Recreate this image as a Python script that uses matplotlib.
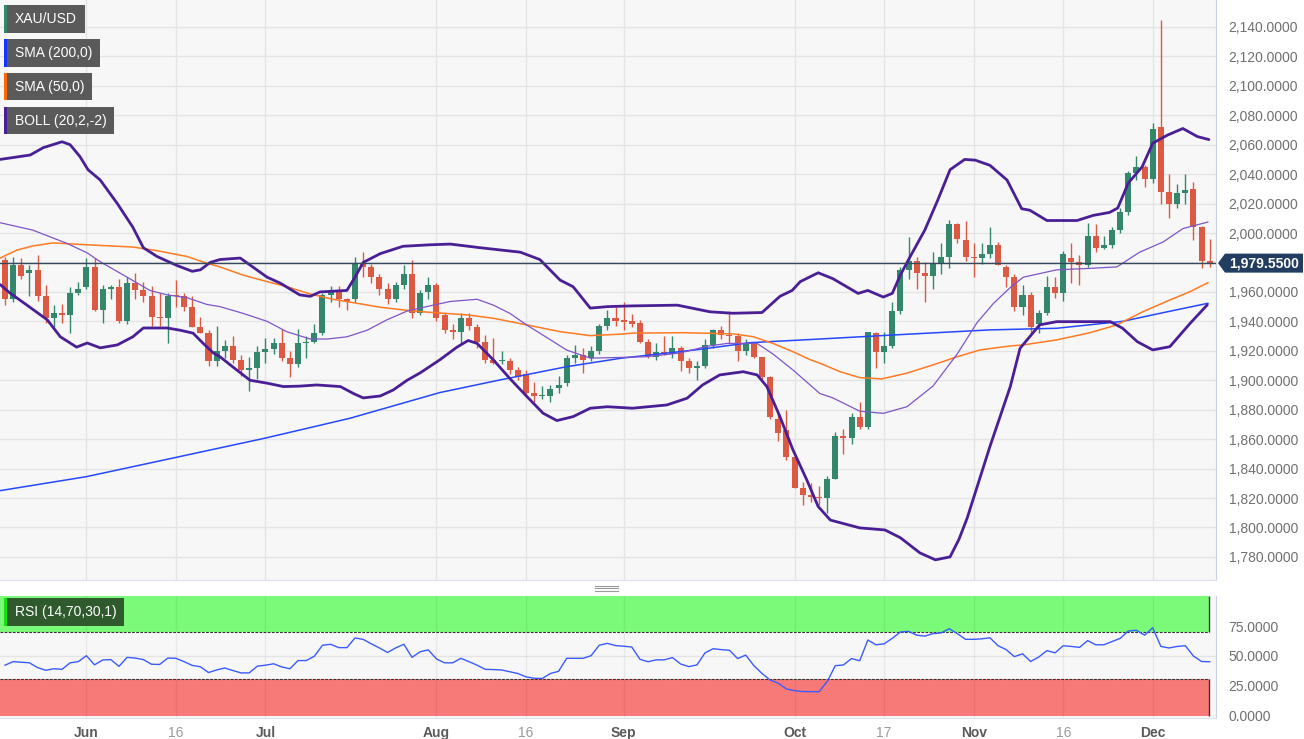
import matplotlib.pyplot as plt
from matplotlib.patches import Rectangle, Polygon
from matplotlib.lines import Line2D
from matplotlib.ticker import FuncFormatter
from matplotlib.transforms import blended_transform_factory
import numpy as np
import pandas as pd

plt.rcParams["font.family"] = ["Liberation Sans", "DejaVu Sans"]

# ---- data (XAU/USD daily) ----
dates = pd.bdate_range("2023-05-18", "2023-12-12")

opens = [1982, 1955, 1978, 1973, 1975, 1957, 1942, 1946, 1944, 1959,
         1963, 1977, 1948, 1962, 1963, 1940, 1966, 1961, 1957, 1943,
         1942, 1958, 1957, 1950, 1936, 1932, 1913, 1920, 1923, 1914,
         1907, 1908, 1919, 1921, 1925, 1915, 1911, 1925, 1926, 1932,
         1958, 1961, 1955, 1955, 1979, 1977, 1970, 1962, 1955, 1965,
         1972, 1946, 1960, 1965, 1944, 1934, 1933, 1942, 1936, 1926,
         1914, 1913, 1913, 1907, 1904, 1891, 1889, 1889, 1895, 1898,
         1915, 1917, 1915, 1920, 1937, 1942, 1941, 1940, 1939, 1926,
         1916, 1919, 1918, 1922, 1913, 1908, 1910, 1924, 1934, 1931,
         1930, 1920, 1925, 1916, 1902, 1874, 1866, 1848, 1827, 1822,
         1821, 1820, 1833, 1862, 1861, 1875, 1868, 1932, 1919, 1923,
         1947, 1975, 1981, 1973, 1971, 1979, 1984, 2006, 1995, 1984,
         1983, 1986, 1992, 1977, 1970, 1950, 1958, 1938, 1946, 1963,
         1959, 1983, 1980, 1978, 1998, 1990, 1992, 2002, 2014, 2041,
         2045, 2037, 2072, 2028, 2020, 2027, 2030, 2004, 1981]
highs = [1984, 1984, 1983, 1978, 1985, 1965, 1951, 1952, 1963, 1967,
         1983, 1983, 1965, 1965, 1969, 1970, 1973, 1967, 1964, 1959,
         1959, 1968, 1959, 1957, 1943, 1934, 1937, 1927, 1930, 1917,
         1916, 1923, 1929, 1929, 1935, 1920, 1935, 1930, 1938, 1959,
         1964, 1964, 1956, 1984, 1987, 1979, 1972, 1966, 1967, 1978,
         1982, 1961, 1970, 1966, 1946, 1938, 1946, 1946, 1938, 1931,
         1929, 1920, 1915, 1909, 1907, 1899, 1896, 1897, 1903, 1917,
         1924, 1922, 1923, 1938, 1948, 1950, 1953, 1945, 1941, 1928,
         1925, 1930, 1930, 1923, 1915, 1913, 1928, 1935, 1937, 1947,
         1932, 1928, 1926, 1916, 1903, 1878, 1880, 1849, 1831, 1830,
         1828, 1835, 1865, 1867, 1878, 1885, 1933, 1933, 1933, 1953,
         1977, 1997, 1984, 1980, 1987, 1993, 2009, 2007, 2008, 1993,
         1993, 2004, 1994, 1978, 1972, 1965, 1960, 1948, 1971, 1970,
         1988, 1993, 1985, 2007, 2006, 1998, 2004, 2017, 2042, 2052,
         2046, 2075, 2145, 2040, 2033, 2040, 2035, 2005, 1996]
lows = [1951, 1953, 1969, 1957, 1954, 1939, 1936, 1939, 1932, 1958,
        1962, 1947, 1939, 1955, 1939, 1938, 1955, 1953, 1937, 1937,
        1925, 1950, 1947, 1936, 1932, 1910, 1910, 1915, 1912, 1903,
        1893, 1901, 1912, 1918, 1913, 1902, 1909, 1915, 1925, 1931,
        1953, 1950, 1948, 1953, 1970, 1966, 1958, 1952, 1953, 1962,
        1942, 1944, 1955, 1940, 1932, 1928, 1925, 1934, 1922, 1912,
        1911, 1911, 1904, 1900, 1889, 1885, 1887, 1885, 1891, 1896,
        1912, 1905, 1913, 1918, 1934, 1937, 1934, 1936, 1925, 1915,
        1914, 1917, 1915, 1906, 1905, 1900, 1908, 1922, 1928, 1925,
        1913, 1917, 1915, 1900, 1874, 1859, 1846, 1827, 1815, 1817,
        1815, 1810, 1833, 1850, 1857, 1867, 1867, 1908, 1912, 1922,
        1945, 1969, 1962, 1953, 1962, 1972, 1976, 1993, 1981, 1970,
        1979, 1983, 1978, 1963, 1947, 1944, 1932, 1932, 1944, 1956,
        1954, 1966, 1965, 1977, 1987, 1989, 1990, 2000, 2012, 2036,
        2031, 2034, 2020, 2010, 2017, 2020, 1995, 1976, 1977]
closes = [1955, 1978, 1971, 1975, 1957, 1942, 1946, 1944, 1959, 1962,
          1977, 1948, 1962, 1963, 1940, 1966, 1961, 1957, 1943, 1942,
          1957, 1957, 1950, 1936, 1932, 1913, 1920, 1923, 1914, 1907,
          1908, 1919, 1921, 1925, 1915, 1911, 1925, 1926, 1932, 1958,
          1961, 1955, 1954, 1979, 1977, 1970, 1962, 1955, 1965, 1972,
          1946, 1959, 1965, 1942, 1934, 1933, 1942, 1937, 1926, 1914,
          1912, 1914, 1907, 1902, 1891, 1889, 1890, 1894, 1897, 1915,
          1917, 1914, 1920, 1937, 1942, 1940, 1939.5, 1938, 1926, 1916,
          1919, 1918, 1922, 1913, 1908, 1910, 1924, 1934, 1931, 1930,
          1920, 1925, 1916, 1902, 1875, 1864, 1848, 1827, 1822, 1821,
          1820, 1833, 1862, 1861, 1875, 1868, 1933, 1919, 1923, 1947,
          1975, 1981, 1973, 1971, 1979, 1984, 2006, 1996, 1984, 1983,
          1986, 1992, 1978, 1970, 1950, 1958, 1936, 1946, 1963, 1959,
          1986, 1980, 1978, 1998, 1990, 1992, 2002, 2014, 2041, 2045,
          2037, 2071, 2028, 2020, 2027, 2029, 2004, 1981, 1979.55]

rsi = [42, 45, 44.5, 44, 40, 37.7, 39, 38.5, 44, 45,
       50, 42.3, 46.4, 46.7, 41, 48.6, 48, 46.7, 42.8, 42.6,
       48, 47.8, 45, 41.8, 40.7, 35.8, 38, 39.6, 37.5, 35.5,
       35.5, 41.2, 42, 43.2, 40.5, 39, 45.9, 45.9, 49.5, 58.8,
       59.6, 56.8, 56.8, 65, 63.7, 60, 56.5, 52.7, 56.6, 59.6,
       48.6, 53.3, 54.9, 47.3, 44, 44, 47.8, 45, 42, 38.5,
       38.3, 38, 36.5, 35, 32.2, 31, 30.8, 35, 36.8, 47.8,
       47.8, 47.8, 50, 58.8, 60.4, 58.5, 58, 57.3, 47, 44.9,
       46.5, 46.5, 48.4, 43, 40.8, 42.2, 52.4, 55.9, 55.1, 54.6,
       47.6, 50.5, 41.6, 35, 29.5, 26.8, 22, 20.5, 19.8, 19.7,
       19.7, 28.1, 41.6, 42.2, 47.6, 45.7, 63.2, 59.2, 60, 64.6,
       70, 70.5, 67.3, 66.5, 68.6, 69.2, 72.7, 68.6, 63.8, 63.8,
       64.2, 65.1, 58.4, 55.1, 49.2, 51.6, 45.1, 48.9, 54.3, 52.4,
       58.4, 57.8, 57, 62.7, 59.2, 59.2, 61.9, 64.6, 70.8, 71.4,
       67.3, 73.5, 57.8, 56.5, 57.8, 58.4, 49.7, 45.1, 44.9]

# indicator lines, (candle index, price)
boll_upper = [(-0.6, 2050), (3.1, 2053), (4.7, 2058), (7.0, 2062), (8.0, 2060),
              (9.2, 2052), (10.2, 2043), (11.7, 2036), (13.8, 2020), (15.7, 2004),
              (17.0, 1990), (18.7, 1984), (21.1, 1978), (23.0, 1974), (24.0, 1975),
              (25.2, 1980), (26.4, 1982), (28.9, 1983), (32.2, 1970), (33.8, 1966),
              (36.2, 1958), (37.5, 1957), (38.7, 1960), (42.0, 1961), (43.0, 1970),
              (44.0, 1980), (46.1, 1986), (48.9, 1991), (52.2, 1992), (54.7, 1992.5),
              (58.4, 1990), (63.3, 1987), (65.7, 1982), (68.2, 1968), (69.8, 1963.5),
              (71.9, 1949), (74.0, 1950), (77.0, 1950.5), (82.6, 1951), (86.6, 1946.5),
              (89.4, 1945.5), (93.0, 1946), (95.2, 1957), (96.7, 1961), (97.7, 1967),
              (99.9, 1973), (101.7, 1969), (104.8, 1959), (106.0, 1961), (107.9, 1956.5),
              (109.0, 1959), (110.0, 1971.5), (111.2, 1984), (113.0, 2002), (114.6, 2022.5),
              (116.1, 2043), (117.9, 2050), (119.2, 2049.5), (121.0, 2046), (123.1, 2036),
              (124.9, 2016.5), (125.9, 2015.5), (128.0, 2008.5), (131.7, 2008.5), (133.7, 2012),
              (135.7, 2014), (136.7, 2017), (138.0, 2034), (139.7, 2045), (141.0, 2061),
              (142.8, 2066.5), (144.7, 2071), (146.5, 2065.5), (147.9, 2063.5)]
boll_mid = [(-0.6, 2007), (3.4, 2002), (7.6, 1993), (10.1, 1986.5), (11.7, 1980.5),
            (15.0, 1970), (17.8, 1961), (19.9, 1958), (22.4, 1956), (24.8, 1951.5),
            (26.4, 1950), (29.2, 1945.5), (32.2, 1940), (34.6, 1933), (37.5, 1928),
            (39.6, 1928), (42.0, 1929.5), (44.5, 1934), (46.9, 1941), (49.4, 1947),
            (52.6, 1951), (54.7, 1953.5), (58.0, 1955), (60.0, 1951), (62.0, 1945.5),
            (64.1, 1937.5), (67.0, 1927.5), (69.0, 1920.5), (71.9, 1915), (75.6, 1915.5),
            (78.9, 1916), (82.9, 1918.5), (86.2, 1923), (88.7, 1925), (92.4, 1925),
            (94.3, 1918), (96.8, 1907), (100.1, 1891), (101.7, 1888), (105.0, 1879),
            (107.9, 1877.5), (110.8, 1882), (114.0, 1896), (117.0, 1918), (119.4, 1939),
            (121.4, 1952), (123.5, 1963), (125.1, 1970), (129.2, 1975), (133.3, 1976),
            (136.6, 1977), (139.4, 1987), (142.3, 1994), (144.7, 2003), (147.8, 2007.5)]
boll_lower = [(-0.6, 1965), (0.6, 1959.3), (2.7, 1951), (5.2, 1941), (6.8, 1929.5),
              (8.8, 1922.5), (10.1, 1925.3), (11.7, 1922), (13.8, 1924), (15.7, 1929.5),
              (17.0, 1935.5), (19.9, 1935.5), (21.5, 1934), (23.1, 1932), (24.3, 1925.3),
              (25.6, 1918.5), (26.4, 1916), (28.0, 1909), (30.1, 1900), (32.2, 1898),
              (34.2, 1895.7), (36.2, 1896), (38.3, 1896.8), (41.2, 1895.7), (42.8, 1891),
              (44.0, 1888), (46.1, 1889.3), (47.7, 1893.4), (49.4, 1900), (51.0, 1905),
              (53.4, 1913.8), (55.5, 1922.4), (56.9, 1927), (58.0, 1925), (60.0, 1913.8),
              (62.0, 1901.3), (64.1, 1889), (66.1, 1877.6), (67.8, 1872.6), (69.8, 1875.3),
              (71.9, 1881), (74.0, 1882), (77.1, 1881), (81.3, 1883.2), (83.8, 1887.8),
              (85.7, 1896.8), (87.8, 1903.6), (90.7, 1905.8), (92.4, 1903.6), (93.6, 1895.7),
              (95.2, 1875.3), (96.8, 1852.7), (98.5, 1832.3), (99.9, 1814.2), (101.4, 1805),
              (105.0, 1799.7), (108.1, 1798.3), (110.0, 1793), (112.4, 1782.7), (114.3, 1778),
              (116.1, 1780), (117.2, 1792), (118.2, 1806.3), (121.0, 1855), (123.5, 1895.7),
              (124.7, 1921.7), (127.1, 1937.6), (129.2, 1939.8), (133.3, 1939.8), (135.8, 1939.8),
              (137.3, 1935.3), (139.1, 1926.2), (141.0, 1920.6), (143.1, 1922.8), (145.6, 1938.7),
              (147.7, 1951.2)]
sma50 = [(-0.6, 1983), (1.5, 1988.5), (3.4, 1991.2), (5.9, 1993.3), (10.1, 1992),
         (15.7, 1990.5), (18.7, 1988), (22.4, 1984), (24.8, 1979.5), (26.4, 1977),
         (29.2, 1971.5), (32.2, 1967), (34.6, 1963.6), (37.5, 1958.6), (40.3, 1955),
         (43.2, 1952.3), (46.1, 1949.6), (48.9, 1947.8), (51.0, 1946.6), (56.8, 1944.4),
         (60.0, 1942.1), (64.1, 1937.6), (68.2, 1933), (71.9, 1930.3), (75.6, 1931.3),
         (77.1, 1932), (83.3, 1932.3), (89.4, 1931.5), (91.9, 1929.6), (94.3, 1925.1),
         (96.8, 1919.4), (98.9, 1914), (100.1, 1911.6), (102.6, 1905.8), (105.0, 1901.8),
         (107.7, 1900.9), (110.8, 1904.8), (114.0, 1910.4), (117.0, 1916), (119.8, 1920.6),
         (123.5, 1923.3), (125.1, 1924), (129.2, 1927.4), (133.3, 1932.3), (136.6, 1937.6),
         (139.8, 1946.6), (143.1, 1954.5), (145.6, 1960.2), (147.8, 1966.3)]
sma200 = [(-0.6, 1825), (10.0, 1834.5), (21.1, 1847.7), (31.9, 1860.6), (42.4, 1874.2),
          (53.4, 1891.6), (60.8, 1900.2), (69.0, 1909.2), (75.6, 1914.9), (85.4, 1921),
          (91.5, 1925.5), (100.1, 1928), (110.0, 1931), (121.0, 1934.2), (129.2, 1935.3),
          (137.3, 1940), (141.5, 1945), (147.8, 1952.3)]

tick_dates = ["2023-06-01", "2023-06-16", "2023-07-03", "2023-08-01", "2023-08-16",
              "2023-09-01", "2023-10-02", "2023-10-17", "2023-11-01", "2023-11-16",
              "2023-12-01"]
tick_labels = ["Jun", "16", "Jul", "Aug", "16", "Sep", "Oct", "17", "Nov", "16", "Dec"]

legend_labels = ["XAU/USD", "SMA (200,0)", "SMA (50,0)", "BOLL (20,2,-2)"]

# ---- styling ----
green = "#34866c"
red = "#dc5a43"
c_sma200 = "#2448ff"
c_sma50 = "#ff7a22"
c_band = "#4a1f96"
c_mid = "#7e55c8"
grid_c = "#e4e4e4"

W, H = 1304, 739
x0_px, dx_px = 5.0, 8.14          # centre of first candle, candle spacing (px)
right_px = 1216


def box(left, top, right, bottom):
    return [left / W, 1 - bottom / H, (right - left) / W, (bottom - top) / H]


def fig_rect(left, top, right, bottom, **kw):
    fig.add_artist(Rectangle((left / W, 1 - bottom / H), (right - left) / W,
                             (bottom - top) / H, transform=fig.transFigure, **kw))


fig = plt.figure(figsize=(W / 100, H / 100), dpi=100)
fig.patch.set_facecolor("white")

ax = fig.add_axes(box(0, 0, right_px, 580))
rs = fig.add_axes(box(0, 596, right_px, 718))

n = len(closes)
idx = np.arange(n)
xlim = ((0 - x0_px) / dx_px, (right_px - x0_px) / dx_px)
tick_idx = [dates.get_loc(pd.Timestamp(d)) for d in tick_dates]

for a in (ax, rs):
    a.set_facecolor("#f7f7f7")
    a.set_xlim(*xlim)
    a.spines["top"].set_visible(False)
    a.spines["left"].set_visible(False)
    a.spines["right"].set_color("#c9d2e3")
    a.spines["bottom"].set_color("#dfe4ec")
    a.yaxis.tick_right()
    a.tick_params(axis="y", length=0, pad=9, labelsize=10, labelcolor="#707070")
    a.set_xticks(tick_idx)
    a.tick_params(axis="x", length=0)

# ---- price panel ----
ax.set_ylim(1764.3, 2158.3)
ax.set_yticks(np.arange(1780, 2141, 20))
ax.yaxis.set_major_formatter(FuncFormatter(lambda v, p: f"{v:,.4f}"))
ax.tick_params(axis="x", labelbottom=False)
ax.grid(True, color=grid_c, lw=1)
ax.set_axisbelow(True)

o, h, l, c = (np.array(v, dtype=float) for v in (opens, highs, lows, closes))
col = np.where(c >= o, green, red)
ax.vlines(idx, l, h, colors=col, lw=1.0, zorder=2)
ax.bar(idx, np.maximum(np.abs(c - o), 0.9), bottom=np.minimum(o, c),
       width=0.74, color=col, lw=0, zorder=3)

for pts, color, lw in [(sma200, c_sma200, 1.1), (sma50, c_sma50, 1.1),
                       (boll_mid, c_mid, 0.9), (boll_upper, c_band, 2.0),
                       (boll_lower, c_band, 2.0)]:
    xs, ys = zip(*pts)
    ax.plot(xs, ys, color=color, lw=lw, zorder=4, solid_capstyle="round")

last = closes[-1]
ax.axhline(last, color="#34495e", lw=1.0, zorder=5)

# last price tag on the axis
tr = blended_transform_factory(ax.transAxes, ax.transData)
half = 9.5 * (2158.3 - 1764.3) / 580
px = lambda p: 1 + p / right_px
tag = [(px(2), last), (px(9), last + half), (px(87), last + half),
       (px(87), last - half), (px(9), last - half)]
ax.add_patch(Polygon(tag, closed=True, transform=tr, fc="#223d60", ec="none",
                     clip_on=False, zorder=6))
ax.text(px(48), last, f"{last:,.4f}", transform=tr, color="white", fontsize=10,
        fontweight="bold", ha="center", va="center", clip_on=False, zorder=7)

# ---- RSI panel ----
rs.set_ylim(-2.5, 100.3)
rs.set_yticks([0, 25, 50, 75])
rs.yaxis.set_major_formatter(FuncFormatter(lambda v, p: f"{v:.4f}"))
zone_r = (1209 - x0_px) / dx_px
rs.add_patch(Rectangle((xlim[0], 70), zone_r - xlim[0], 31, fc="#7bfa79",
                       ec="none", zorder=1))
rs.add_patch(Rectangle((xlim[0], -1.2), zone_r - xlim[0], 31.2, fc="#f87a78",
                       ec="none", zorder=1))
rs.hlines([70, 30], xlim[0], zone_r, colors="#333333", lw=0.8,
          linestyles=(0, (2.5, 1.2)), zorder=2)
rs.vlines(zone_r, 70, 100.3, colors="#2f4a2f", lw=1.0, zorder=2)
rs.vlines(zone_r, -1.2, 30, colors="#4a2f2f", lw=1.0, zorder=2)
rs.axhline(50, color=grid_c, lw=1, zorder=0.5)
for t in tick_idx:
    rs.axvline(t, color="black", alpha=0.06, lw=1, zorder=1.5)
rs.plot(idx, rsi, color="#3a5bff", lw=1.0, zorder=3)

rs.set_xticklabels(tick_labels)
rs.tick_params(axis="x", pad=6, labelsize=10)
for lab in rs.get_xticklabels():
    if lab.get_text().isdigit():
        lab.set_color("#9a9a9a")
    else:
        lab.set_color("#5a5a5a")
        lab.set_fontweight("bold")

# ---- legend tags (top left) ----
tag_rows = [(5, 33, 85, green), (39, 67, 100, "#1036ff"),
            (73, 100, 92, "#ff6a00"), (107, 134, 114, c_band)]
for text, (top, bottom, right, stripe) in zip(legend_labels, tag_rows):
    fig_rect(4, top, right, bottom, fc="#5a5a5a", ec="none")
    fig_rect(4, top, 7, bottom, fc=stripe, ec="none")
    fig.text(15 / W, 1 - (top + bottom) / 2 / H, text, color="white",
             fontsize=10, va="center", ha="left")

fig_rect(4, 598, 124, 626, fc="#2e5a2e", ec="none")
fig_rect(4, 598, 7, 626, fc="#17e017", ec="none")
fig.text(15 / W, 1 - 612 / H, "RSI (14,70,30,1)", color="white",
         fontsize=10, va="center", ha="left")

# panel splitter handle
for yy in (585.5, 588, 590.5):
    fig.add_artist(Line2D([595 / W, 618 / W], [1 - yy / H] * 2,
                          transform=fig.transFigure, color="#9a9a9a", lw=0.8))

fig.savefig("out.png", dpi=100, facecolor="white")
